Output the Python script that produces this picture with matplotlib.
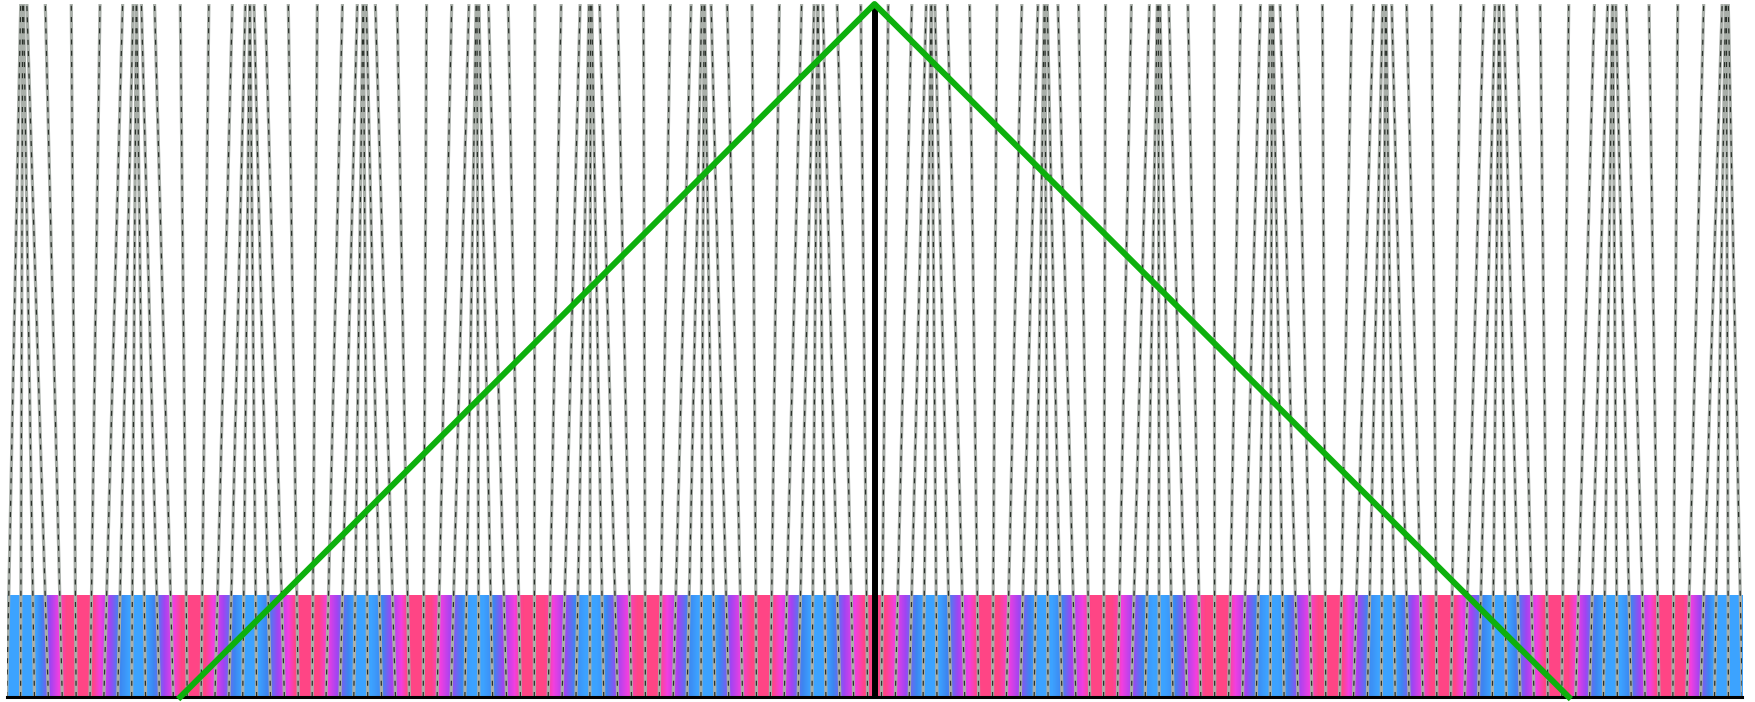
import numpy as np
import matplotlib
matplotlib.use("Agg")
import matplotlib.pyplot as plt
from matplotlib.collections import LineCollection
from matplotlib.colors import LinearSegmentedColormap

# where each line ends at the top (bottom ends sit at 0, 1, 2, ... 125)
top_x = [
    1.01, 1.15, 1.21, 1.45, 2.78, 4.65, 6.72, 8.35, 9.11, 9.33,
    9.36, 9.70, 10.65, 12.50, 14.56, 16.25, 17.19, 17.50, 17.52, 17.81,
    18.62, 20.28, 22.37, 24.18, 25.25, 25.66, 25.69, 25.90, 26.55, 28.12,
    30.24, 32.05, 33.29, 33.81, 33.87, 34.01, 34.70, 36.12, 38.04, 39.93,
    41.30, 41.94, 42.05, 42.13, 42.70, 44.00, 45.86, 47.80, 49.29, 50.06,
    50.23, 50.27, 50.73, 51.89, 53.68, 55.65, 57.25, 58.15, 58.40, 58.43,
    58.78, 59.81, 61.51, 63.49, 65.19, 66.22, 66.57, 66.60, 66.85, 67.75,
    69.35, 71.32, 73.11, 74.27, 74.73, 74.77, 74.94, 75.71, 77.20, 79.14,
    81.00, 82.30, 82.87, 82.95, 83.06, 83.70, 85.07, 86.96, 88.88, 90.30,
    90.99, 91.13, 91.19, 91.71, 92.95, 94.76, 96.88, 98.45, 99.10, 99.31,
    99.34, 99.75, 100.82, 102.63, 104.72, 106.38, 107.19, 107.48, 107.50, 107.81,
    108.75, 110.44, 112.50, 114.35, 115.30, 115.64, 115.67, 115.89, 116.65, 118.28,
    120.35, 122.22, 123.55, 123.79, 123.85, 123.99,
]
bottom_x = np.arange(len(top_x))

center_x = 62.5
green_x = [12.5, 62.5, 112.5]
green_y = [0, 1, 0]

bar_top = 0.147  # colour strip height (axes fraction)
bar_cmap = LinearSegmentedColormap.from_list(
    "bar", [(0, "#3ca6ff"), (0.1, "#3ca2ff"), (0.22, "#3d86f0"), (0.45, "#a244f2"),
            (0.7, "#f23fe0"), (0.86, "#ff4585"), (1, "#ff4585")])

fig = plt.figure(figsize=(17.55, 7.02), dpi=100)
ax = fig.add_axes([6.7 / 1755, 5 / 702, 1735.6 / 1755, 693 / 702])
ax.set_xlim(0, 125)
ax.set_ylim(0, 1)
ax.axis("off")

# strip colour = how much the lines spread out going up
stretch = np.gradient(np.array(top_x))
ax.imshow(stretch[np.newaxis, :], extent=(-0.5, 125.5, 0, bar_top), aspect="auto",
          cmap=bar_cmap, vmin=0, vmax=2, interpolation="bilinear", zorder=1)

segs = [[(b, 0), (t, 1)] for b, t in zip(bottom_x, top_x)]
ax.add_collection(LineCollection(segs, colors="#a9afa9", linewidths=2.3, zorder=2))
ax.add_collection(LineCollection(segs, colors="#2a302a", linewidths=0.9,
                                 linestyles=[(0, (4, 5))], zorder=3))

ax.plot([0, 125], [0, 0], color="black", lw=2.2, zorder=4, clip_on=False)
ax.plot([center_x, center_x], [0, 0.99], color="black", lw=4.3, zorder=5)
ax.plot(green_x, green_y, color="#0db00d", lw=4.3, solid_joinstyle="round",
        zorder=6, clip_on=False)

fig.savefig("out.png", dpi=100)
